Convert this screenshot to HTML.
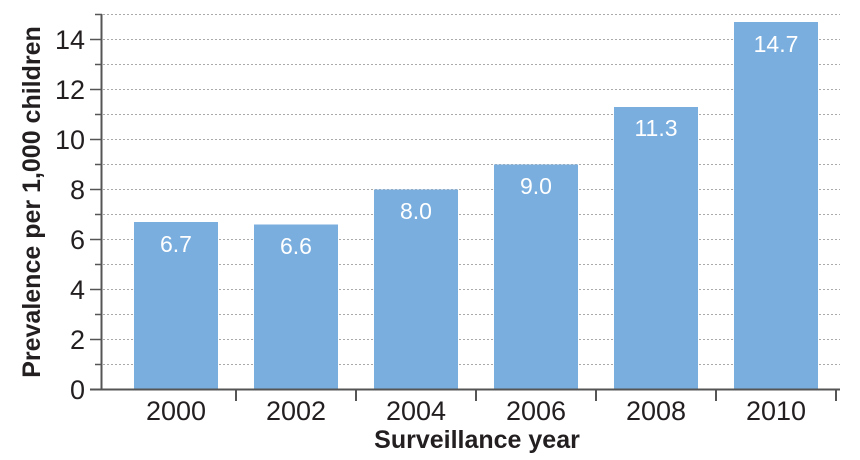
<!DOCTYPE html>
<html><head><style>
body{margin:0;background:#fff}
svg{display:block}
text{font-family:"Liberation Sans",sans-serif;fill:#231f20}
</style></head><body>
<svg width="860" height="460" viewBox="0 0 860 460">
<g stroke="#aaa" stroke-width="1" stroke-dasharray="2,2">
<line x1="103" x2="840" y1="14.5" y2="14.5"/>
<line x1="103" x2="840" y1="39.5" y2="39.5"/>
<line x1="103" x2="840" y1="64.5" y2="64.5"/>
<line x1="103" x2="840" y1="89.5" y2="89.5"/>
<line x1="103" x2="840" y1="114.5" y2="114.5"/>
<line x1="103" x2="840" y1="139.5" y2="139.5"/>
<line x1="103" x2="840" y1="164.5" y2="164.5"/>
<line x1="103" x2="840" y1="189.5" y2="189.5"/>
<line x1="103" x2="840" y1="214.5" y2="214.5"/>
<line x1="103" x2="840" y1="239.5" y2="239.5"/>
<line x1="103" x2="840" y1="264.5" y2="264.5"/>
<line x1="103" x2="840" y1="289.5" y2="289.5"/>
<line x1="103" x2="840" y1="314.5" y2="314.5"/>
<line x1="103" x2="840" y1="339.5" y2="339.5"/>
<line x1="103" x2="840" y1="364.5" y2="364.5"/>
</g>
<g fill="#7aaedf">
<rect x="134" y="222" width="84" height="167.5"/>
<rect x="254" y="224.5" width="84" height="165"/>
<rect x="374" y="189.5" width="84" height="200"/>
<rect x="494" y="164.5" width="84" height="225"/>
<rect x="614" y="107" width="84" height="282.5"/>
<rect x="734" y="22" width="84" height="367.5"/>
</g>
<g font-size="23" text-anchor="middle">
<text x="176" y="252" style="fill:#fff">6.7</text>
<text x="296" y="254" style="fill:#fff">6.6</text>
<text x="416" y="219" style="fill:#fff">8.0</text>
<text x="536" y="194" style="fill:#fff">9.0</text>
<text x="656" y="136" style="fill:#fff">11.3</text>
<text x="776" y="52" style="fill:#fff">14.7</text>
</g>
<g stroke="#555" stroke-width="2">
<line x1="101.5" y1="14" x2="101.5" y2="390"/>
<line x1="90" y1="389.5" x2="840" y2="389.5"/>
<line x1="236" y1="389" x2="236" y2="401"/>
<line x1="356" y1="389" x2="356" y2="401"/>
<line x1="476" y1="389" x2="476" y2="401"/>
<line x1="596" y1="389" x2="596" y2="401"/>
<line x1="716" y1="389" x2="716" y2="401"/>
<line x1="836" y1="389" x2="836" y2="401"/>
</g>
<g stroke="#555" stroke-width="1.5">
<line x1="95" x2="102" y1="14.5" y2="14.5"/><line x1="90" x2="102" y1="39.5" y2="39.5"/>
<line x1="95" x2="102" y1="64.5" y2="64.5"/><line x1="90" x2="102" y1="89.5" y2="89.5"/>
<line x1="95" x2="102" y1="114.5" y2="114.5"/><line x1="90" x2="102" y1="139.5" y2="139.5"/>
<line x1="95" x2="102" y1="164.5" y2="164.5"/><line x1="90" x2="102" y1="189.5" y2="189.5"/>
<line x1="95" x2="102" y1="214.5" y2="214.5"/><line x1="90" x2="102" y1="239.5" y2="239.5"/>
<line x1="95" x2="102" y1="264.5" y2="264.5"/><line x1="90" x2="102" y1="289.5" y2="289.5"/>
<line x1="95" x2="102" y1="314.5" y2="314.5"/><line x1="90" x2="102" y1="339.5" y2="339.5"/>
<line x1="95" x2="102" y1="364.5" y2="364.5"/>
</g>
<g font-size="27" text-anchor="end">
<text x="85" y="49">14</text><text x="85" y="99">12</text><text x="85" y="149">10</text>
<text x="85" y="199">8</text><text x="85" y="249">6</text><text x="85" y="299">4</text>
<text x="85" y="349">2</text><text x="85" y="399">0</text>
</g>
<g font-size="27" text-anchor="middle">
<text x="176" y="420">2000</text><text x="296" y="420">2002</text><text x="416" y="420">2004</text>
<text x="536" y="420">2006</text><text x="656" y="420">2008</text><text x="776" y="420">2010</text>
</g>
<text x="477" y="448" font-size="25" font-weight="bold" text-anchor="middle">Surveillance year</text>
<text transform="translate(40,202) rotate(-90)" font-size="25" font-weight="bold" text-anchor="middle">Prevalence per 1,000 children</text>
</svg>
</body></html>
